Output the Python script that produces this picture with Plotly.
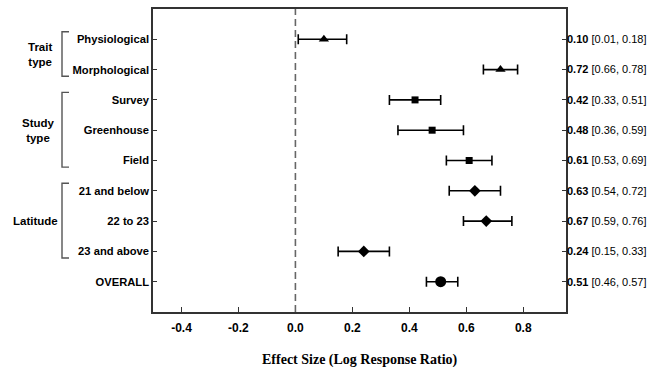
import plotly.graph_objects as go

labels = ["Physiological", "Morphological", "Survey", "Greenhouse", "Field",
          "21 and below", "22 to 23", "23 and above", "OVERALL"]
est = [0.10, 0.72, 0.42, 0.48, 0.61, 0.63, 0.67, 0.24, 0.51]
lo = [0.01, 0.66, 0.33, 0.36, 0.53, 0.54, 0.59, 0.15, 0.46]
hi = [0.18, 0.78, 0.51, 0.59, 0.69, 0.72, 0.76, 0.33, 0.57]
symbols = ["triangle-up", "triangle-up", "square", "square", "square",
           "diamond", "diamond", "diamond", "circle"]
sizes = [9, 9, 7, 7, 7, 9, 9, 9, 11]
groups = [("Trait<br>type", 0, 1), ("Study<br>type", 2, 4), ("Latitude", 5, 7)]
x_ticks = [-0.4, -0.2, 0.0, 0.2, 0.4, 0.6, 0.8]
x_title = "Effect Size (Log Response Ratio)"

ypos = list(range(1, len(labels) + 1))
right_text = [f"<b>{e:.2f}</b> [{l:.2f}, {h:.2f}]" for e, l, h in zip(est, lo, hi)]

fig = go.Figure()
for i in range(len(labels)):
    fig.add_trace(go.Scatter(
        x=[est[i]], y=[ypos[i]], mode="markers",
        marker=dict(symbol=symbols[i], size=sizes[i], color="black"),
        error_x=dict(type="data", symmetric=False,
                     array=[hi[i] - est[i]], arrayminus=[est[i] - lo[i]],
                     color="black", thickness=1.6, width=5),
        showlegend=False, hoverinfo="skip"))

# invisible trace for right axis
fig.add_trace(go.Scatter(x=[est[0]], y=[ypos[0]], yaxis="y2", mode="markers",
                         marker=dict(opacity=0), showlegend=False, hoverinfo="skip"))

W, H = 651, 368
L, T = 153, 9
R = W - 566
B = H - 312
axis_col = "#333333"
fig.update_layout(
    width=W, height=H,
    margin=dict(l=L, r=R, t=T, b=B, autoexpand=False),
    plot_bgcolor="white", paper_bgcolor="white",
    font=dict(family="Liberation Sans, Arial", color="black"),
    xaxis=dict(range=[-0.5, 0.95], tickvals=x_ticks,
               ticktext=[f"<b>{v:.1f}</b>" for v in x_ticks],
               ticks="inside", ticklen=5, tickwidth=1.2, tickcolor=axis_col,
               showline=True, linecolor=axis_col, linewidth=1.5, mirror=True,
               showgrid=False, zeroline=False, automargin=False,
               ticklabelstandoff=4,
               tickfont=dict(size=12, color="black")),
    yaxis=dict(range=[10, 0], tickvals=ypos,
               ticktext=[f"<b>{l}</b>" for l in labels],
               ticks="inside", ticklen=4, tickwidth=1.2, tickcolor=axis_col,
               showline=True, linecolor=axis_col, linewidth=1.5, mirror=True,
               showgrid=False, zeroline=False, automargin=False,
               tickfont=dict(size=11.2, color="black")),
    yaxis2=dict(range=[10, 0], overlaying="y", side="right", tickvals=ypos,
                ticktext=right_text, automargin=False,
                ticks="inside", ticklen=4, tickwidth=1.2, tickcolor=axis_col,
                showline=False, showgrid=False, zeroline=False,
                tickfont=dict(size=11, color="black")),
)

ph = H - T - B
pw = W - L - R

def px2paper_x(px):
    return (px - L) / pw

def py2paper_y(py):
    return 1 - (py - T) / ph

# x axis title
fig.add_annotation(x=0.5, y=py2paper_y(360), xref="paper", yref="paper",
                   xanchor="center", yanchor="middle",
                   text=f"<b>{x_title}</b>", showarrow=False,
                   font=dict(family="Liberation Serif, Times New Roman", size=14, color="black"))

# dashed zero line
fig.add_shape(type="line", x0=0, x1=0, y0=0, y1=1, xref="x", yref="paper",
              line=dict(color="#666666", width=1.6, dash="7px,4px"))

bx = px2paper_x(62)
bx2 = px2paper_x(69)
label_x = [39.5, 38.5, 35.5]
for (text, a, b), lx in zip(groups, label_x):
    y0 = ypos[a] - 0.25
    y1 = ypos[b] + 0.22
    fig.add_shape(type="path", xref="paper", yref="y",
                  path=f"M {bx2} {y0} L {bx} {y0} L {bx} {y1} L {bx2} {y1}",
                  line=dict(color="#555555", width=1.4))
    fig.add_annotation(x=px2paper_x(lx), y=(ypos[a] + ypos[b]) / 2, xref="paper", yref="y",
                       xanchor="center", yanchor="middle",
                       text=f"<b>{text}</b>", showarrow=False,
                       font=dict(size=11.5, color="black"), align="center")

fig.write_html("out.html", config={"displayModeBar": False},
               post_script="document.body.style.margin='0';document.body.style.overflow='hidden';")
